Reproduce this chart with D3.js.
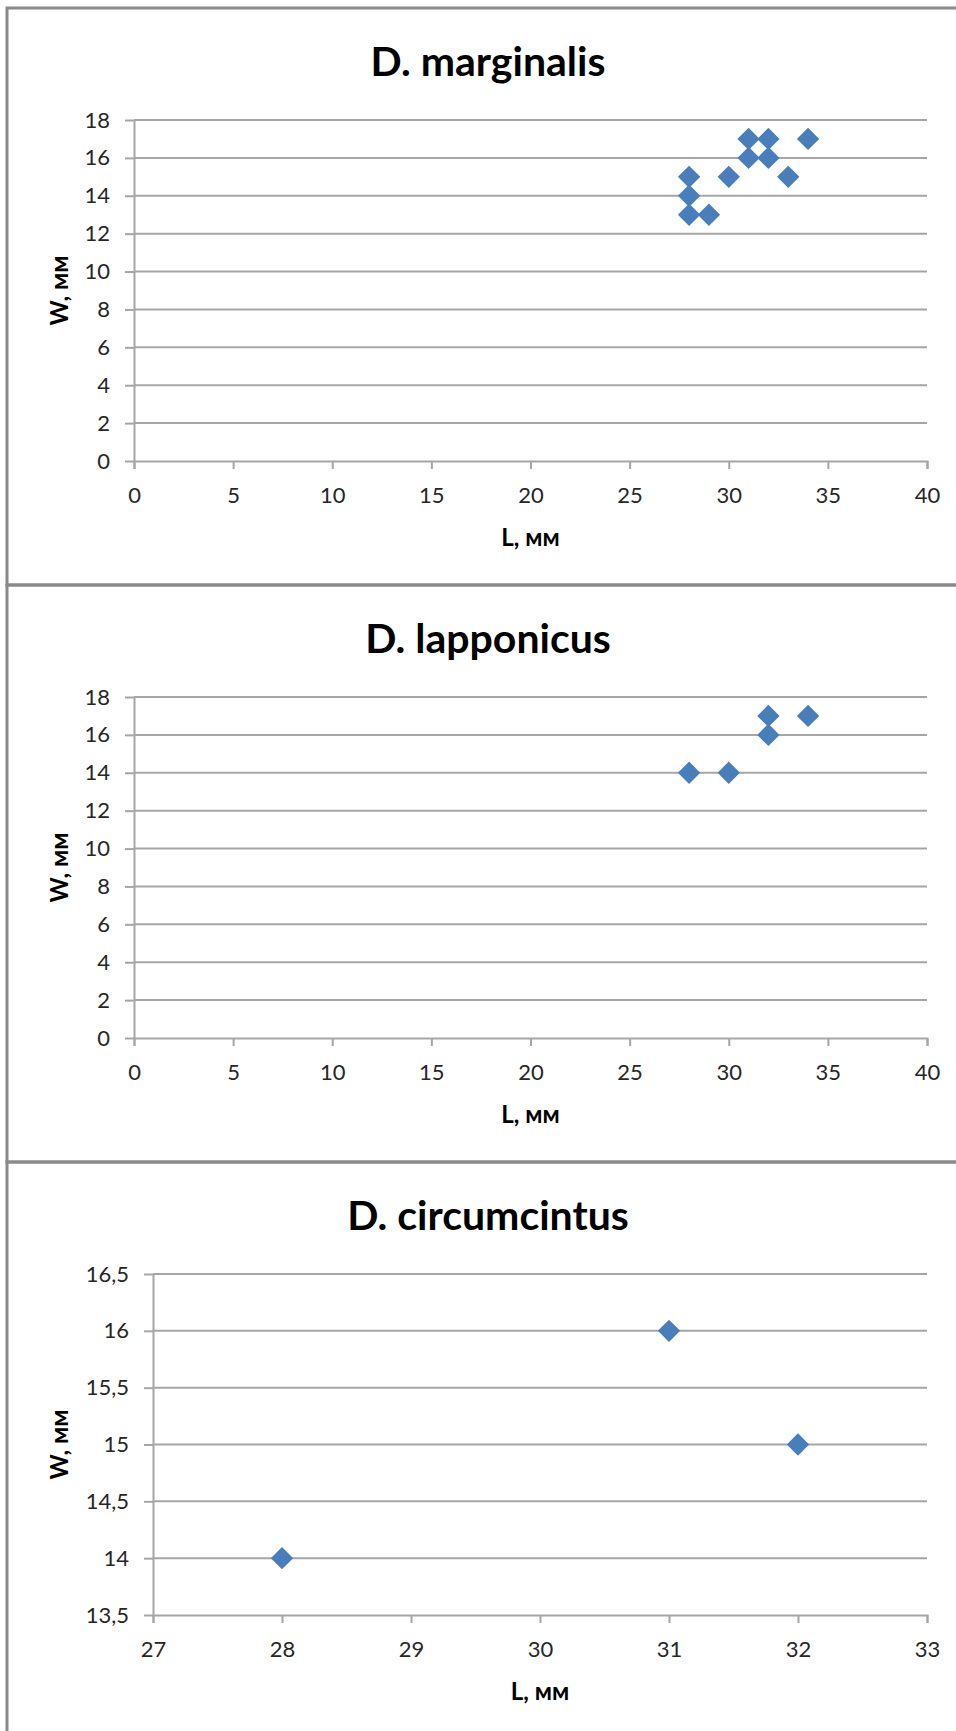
<!DOCTYPE html>
<html>
<head>
<meta charset="utf-8">
<script src="https://cdn.jsdelivr.net/npm/d3@7"></script>
<style>
  body { margin: 0; background: #fff; }
  svg { display: block; }
  .grid line { stroke: #a6a6a6; stroke-width: 2; }
  .axis path, .axis line { stroke: #a6a6a6; stroke-width: 2; }
  .axis text { font-family: Lato, "Open Sans", sans-serif; font-size: 22px; fill: #262626; }
</style>
</head>
<body>
<svg id="chart" width="956" height="1731"></svg>
<script>
// one chart per species, stacked top to bottom
var titles = ["D. marginalis", "D. lapponicus", "D. circumcintus"];

var marginalisL = [28, 28, 28, 29, 30, 31, 31, 32, 32, 33, 34];
var marginalisW = [15, 14, 13, 13, 15, 17, 16, 17, 16, 15, 17];

var lapponicusL = [28, 30, 32, 32, 34];
var lapponicusW = [14, 14, 17, 16, 17];

var circumcintusL = [28, 31, 32];
var circumcintusW = [14, 16, 15];

var xTicksWide = [0, 5, 10, 15, 20, 25, 30, 35, 40];
var yTicksWide = [0, 2, 4, 6, 8, 10, 12, 14, 16, 18];
var xTicksNarrow = [27, 28, 29, 30, 31, 32, 33];
var yTicksNarrow = [13.5, 14, 14.5, 15, 15.5, 16, 16.5];

var xLabel = "L, мм", yLabel = "W, мм";

var panels = [
  {title: titles[0], L: marginalisL, W: marginalisW, xt: xTicksWide, yt: yTicksWide, left: 134},
  {title: titles[1], L: lapponicusL, W: lapponicusW, xt: xTicksWide, yt: yTicksWide, left: 134},
  {title: titles[2], L: circumcintusL, W: circumcintusW, xt: xTicksNarrow, yt: yTicksNarrow, left: 153}
];

var svg = d3.select("#chart");
var panelTops = [8, 585, 1162],
    panelH = 577,
    right = 927,
    plotTop = 112, plotBottom = 453;

var fmt = function(d) { return String(d).replace(".", ","); };

panels.forEach(function(p, i) {
  var top = panelTops[i];
  var g = svg.append("g").attr("transform", "translate(0," + top + ")");

  var x = d3.scaleLinear().domain(d3.extent(p.xt)).range([p.left, right]),
      y = d3.scaleLinear().domain(d3.extent(p.yt)).range([plotBottom, plotTop]);

  // horizontal gridlines
  g.append("g").attr("class", "grid")
    .selectAll("line").data(p.yt.slice(1)).enter().append("line")
      .attr("x1", p.left).attr("x2", right)
      .attr("y1", function(d) { return y(d); })
      .attr("y2", function(d) { return y(d); });

  g.append("g").attr("class", "axis")
    .attr("transform", "translate(0," + plotBottom + ")")
    .call(d3.axisBottom(x).tickValues(p.xt).tickSize(8).tickPadding(18).tickSizeOuter(8).tickFormat(fmt));

  g.append("g").attr("class", "axis")
    .attr("transform", "translate(" + p.left + ",0)")
    .call(d3.axisLeft(y).tickValues(p.yt).tickSize(9).tickPadding(15).tickSizeOuter(0).tickFormat(fmt));

  // diamonds
  g.selectAll(".pt").data(p.L).enter().append("path")
    .attr("class", "pt")
    .attr("d", d3.symbol(d3.symbolSquare, 250))
    .attr("transform", function(d, j) { return "translate(" + x(d) + "," + y(p.W[j]) + ") rotate(45)"; })
    .attr("fill", "#4a7ebb");

  g.append("text")
    .attr("x", 488).attr("y", 68)
    .attr("text-anchor", "middle")
    .style("font-family", "Lato, 'Open Sans', sans-serif")
    .style("font-weight", "bold")
    .style("font-size", "41px")
    .text(p.title);

  g.append("text")
    .attr("x", (p.left + right) / 2).attr("y", 538)
    .attr("text-anchor", "middle")
    .style("font-family", "Lato, 'Open Sans', sans-serif")
    .style("font-weight", "bold")
    .style("font-size", "24px")
    .text(xLabel);

  g.append("text")
    .attr("transform", "translate(60," + (plotTop + plotBottom) / 2 + ") rotate(-90)")
    .attr("text-anchor", "middle")
    .attr("dy", "0.35em")
    .style("font-family", "Lato, 'Open Sans', sans-serif")
    .style("font-weight", "bold")
    .style("font-size", "24px")
    .text(yLabel);

  // chart area frame
  g.append("rect")
    .attr("x", 7).attr("y", 0)
    .attr("width", 1000).attr("height", panelH)
    .attr("fill", "none")
    .attr("stroke", "#8a8a8a")
    .attr("stroke-width", 3);
});
</script>
</body>
</html>
